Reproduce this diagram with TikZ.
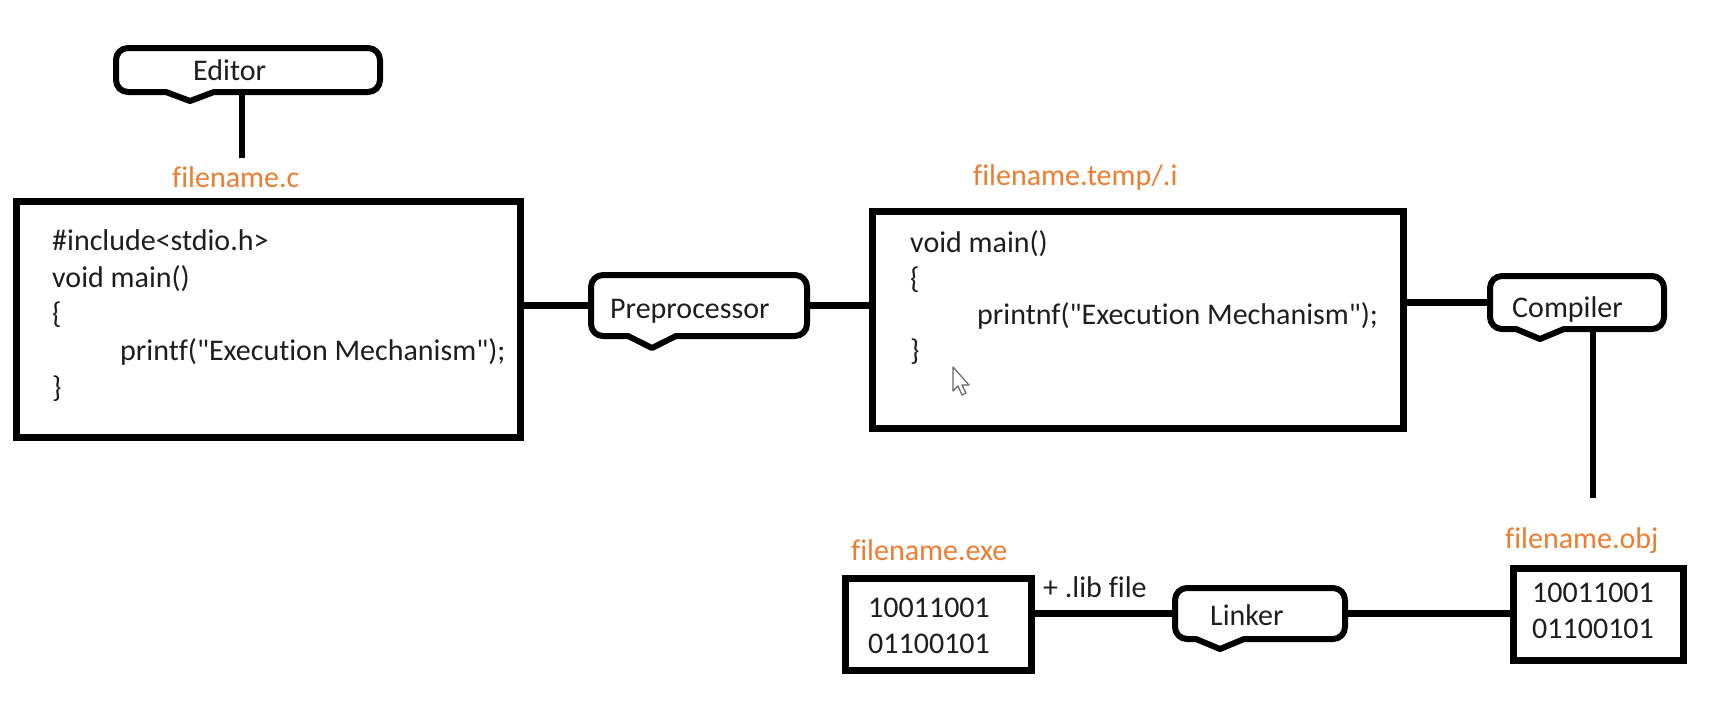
\documentclass[tikz,border=0pt]{standalone}
\usepackage{fontspec}
\setmainfont{Carlito}[Ligatures={TeXOff,NoCommon}]
\usetikzlibrary{calc}
\definecolor{fnorange}{HTML}{ED7D31}
\definecolor{ink}{HTML}{1E1E1E}
\tikzset{
  box/.style={draw=black, line width=7pt, inner sep=0pt, outer sep=0pt},
  bubble/.style={draw=none, inner sep=0pt, outer sep=0pt},
  bubline/.style={draw=black, line width=6pt, fill=white, line join=round},
  conn/.style={draw=black, line width=6.5pt},
  code/.style={anchor=base west, inner sep=0pt, text=ink},
  fname/.style={anchor=base west, inner sep=0pt, text=fnorange},
}
\newcommand\qt{\symbol{34}}
\newcommand\bubbleshape[3]{%
  \draw[bubline] ($(#1.south west)+(#2,#3)$) -- ($(#1.south west)+(#2+24,0)$)
    [rounded corners=12pt] -- (#1.south east) -- (#1.north east)
    -- (#1.north west) -- (#1.south west) [sharp corners] -- ($(#1.south west)+(#2-24,0)$)
    -- cycle;}
\begin{document}
\begin{tikzpicture}[x=1pt,y=-1pt,font=\fontsize{30}{36}\selectfont]
\useasboundingbox[fill=white] (0,0) rectangle (1726,716);

% boxes
\node[box, minimum width=504pt, minimum height=236pt] (b1) at (268,319) {};
\node[box, minimum width=531pt, minimum height=217pt] (b2) at (1137.5,319.5) {};
\node[box, minimum width=170pt, minimum height=92pt] (obj) at (1598,614) {};
\node[box, minimum width=186pt, minimum height=92pt] (exe) at (938,624) {};

% callout bodies
\node[bubble, minimum width=264pt, minimum height=44pt] (ed) at (248,70) {};
\node[bubble, minimum width=216pt, minimum height=61pt] (pre) at (699,305.5) {};
\node[bubble, minimum width=174pt, minimum height=53pt] (comp) at (1577,302.5) {};
\node[bubble, minimum width=170pt, minimum height=51pt] (link) at (1260,613.5) {};

% connectors
\coordinate (edend) at (242,158);
\coordinate (objtop) at (1593,498);
\draw[conn] (ed.south -| edend) -- (edend);
\draw[conn] (b1.east |- pre.west) -- (pre.west);
\draw[conn] (pre.east) -- (b2.west |- pre.east);
\draw[conn] (b2.east |- comp.west) -- (comp.west);
\draw[conn] (comp.south -| objtop) -- (objtop);
\draw[conn] (obj.west |- link.east) -- (link.east);
\draw[conn] (link.west) -- (exe.east |- link.west);

% callout shapes
\bubbleshape{ed}{74}{9}
\bubbleshape{pre}{61}{12}
\bubbleshape{comp}{50}{10}
\bubbleshape{link}{45}{10}

% callout texts
\node[code] (edt) at (193,80) {Editor};
\node[code] (pret) at (610,318) {Preprocessor};
\node[code] (compt) at (1512,317) {Compiler};
\node[code] (linkt) at (1210,625) {Linker};

% file name labels
\node[fname] (fc) at (172,187) {filename.c};
\node[fname] (ft) at (973,185) {filename.temp/.i};
\node[fname] (fo) at (1505,548) {filename.obj};
\node[fname] (fe) at (851,560) {filename.exe};
\node[code] (lib) at (1043,597) {+ .lib file};

% code in box 1
\node[code] (c11) at (52,250) {\#include<stdio.h>};
\node[code] (c12) at (52,287) {void main()};
\node[code] (c13) at (52,323) {\{};
\node[code] (c14) at (120,360) {printf(\qt Execution Mechanism\qt);};
\node[code] (c15) at (52,397) {\}};

% code in box 2
\node[code] (c21) at (910,252) {void main()};
\node[code] (c22) at (910,288) {\{};
\node[code] (c23) at (977,324) {printnf(\qt Execution Mechanism\qt);};
\node[code] (c24) at (910,360) {\}};

% binary
\node[code] (e1) at (868,617) {10011001};
\node[code] (e2) at (868,653) {01100101};
\node[code] (o1) at (1532,602) {10011001};
\node[code] (o2) at (1532,638) {01100101};

% mouse cursor
\draw[line width=1.2pt, draw=black!60, fill=white, line join=round]
  (953,367) -- (953,391) -- (958,386) -- (962,395) -- (966,393) -- (962,385) -- (969,385) -- cycle;
\end{tikzpicture}
\end{document}
